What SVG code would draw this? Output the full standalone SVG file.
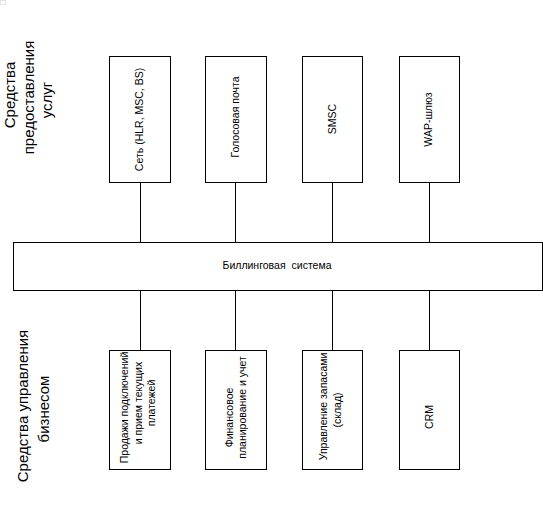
<svg xmlns="http://www.w3.org/2000/svg" width="543" height="508" viewBox="0 0 543 508">
<style>
  .box { fill: #ffffff; stroke: #000000; stroke-width: 1; }
  .conn { stroke: #000000; stroke-width: 1; fill: none; }
  .t { font-family: "Liberation Sans", Arial, sans-serif; font-size: 10.5px; fill: #000000; text-anchor: middle; }
  .big { font-family: "Liberation Sans", Arial, sans-serif; font-size: 15px; fill: #000000; text-anchor: middle; }
</style>
<rect width="543" height="508" fill="#ffffff"/>
<rect x="0.5" y="0.5" width="5" height="4" fill="none" stroke="#c8c8c8" stroke-width="1" stroke-dasharray="1 1"/>

<g id="label-services">
  <text class="big" transform="translate(15,95) rotate(-90)">Средства</text>
  <text class="big" transform="translate(34,97.5) rotate(-90)">предоставления</text>
  <text class="big" transform="translate(52,100) rotate(-90)">услуг</text>
</g>
<g id="label-business">
  <text class="big" transform="translate(28,406) rotate(-90)">Средства управления</text>
  <text class="big" transform="translate(49,409) rotate(-90)">бизнесом</text>
</g>

<g id="connectors">
  <line class="conn" x1="140.5" y1="182.5" x2="140.5" y2="242.5"/>
  <line class="conn" x1="235.5" y1="182.5" x2="235.5" y2="242.5"/>
  <line class="conn" x1="332.5" y1="182.5" x2="332.5" y2="242.5"/>
  <line class="conn" x1="429.5" y1="182.5" x2="429.5" y2="242.5"/>
  <line class="conn" x1="140.5" y1="290.5" x2="140.5" y2="350.5"/>
  <line class="conn" x1="235.5" y1="290.5" x2="235.5" y2="350.5"/>
  <line class="conn" x1="332.5" y1="290.5" x2="332.5" y2="350.5"/>
  <line class="conn" x1="429.5" y1="290.5" x2="429.5" y2="350.5"/>
</g>

<g id="network">
  <rect class="box" x="109.5" y="56.5" width="61" height="126"/>
  <text class="t" transform="translate(143,119.5) rotate(-90)">Сеть (HLR, MSC, BS)</text>
</g>
<g id="voicemail">
  <rect class="box" x="205.5" y="56.5" width="61" height="126"/>
  <text class="t" transform="translate(239,117) rotate(-90)">Голосовая почта</text>
</g>
<g id="smsc">
  <rect class="box" x="302.5" y="56.5" width="60" height="126"/>
  <text class="t" transform="translate(335.5,119) rotate(-90)">SMSC</text>
</g>
<g id="wap">
  <rect class="box" x="399.5" y="56.5" width="60" height="126"/>
  <text class="t" transform="translate(432,119.5) rotate(-90)">WAP-шлюз</text>
</g>

<g id="billing">
  <rect class="box" x="13.5" y="242.5" width="529" height="48"/>
  <text class="t" x="277" y="269" word-spacing="3">Биллинговая система</text>
</g>

<g id="sales">
  <rect class="box" x="109.5" y="350.5" width="61" height="119"/>
  <text class="t" transform="translate(128,407.5) rotate(-90)">Продажи подключений</text>
  <text class="t" transform="translate(141.5,403) rotate(-90)">и прием текущих</text>
  <text class="t" transform="translate(155,403) rotate(-90)">платежей</text>
</g>
<g id="finance">
  <rect class="box" x="205.5" y="350.5" width="61" height="119"/>
  <text class="t" transform="translate(233,417.5) rotate(-90)">Финансовое</text>
  <text class="t" transform="translate(246,407.5) rotate(-90)">планирование и учет</text>
</g>
<g id="inventory">
  <rect class="box" x="302.5" y="350.5" width="60" height="119"/>
  <text class="t" transform="translate(327,406.5) rotate(-90)">Управление запасами</text>
  <text class="t" transform="translate(341,410) rotate(-90)">(склад)</text>
</g>
<g id="crm">
  <rect class="box" x="399.5" y="350.5" width="60" height="119"/>
  <text class="t" transform="translate(433,417) rotate(-90)">CRM</text>
</g>
</svg>
